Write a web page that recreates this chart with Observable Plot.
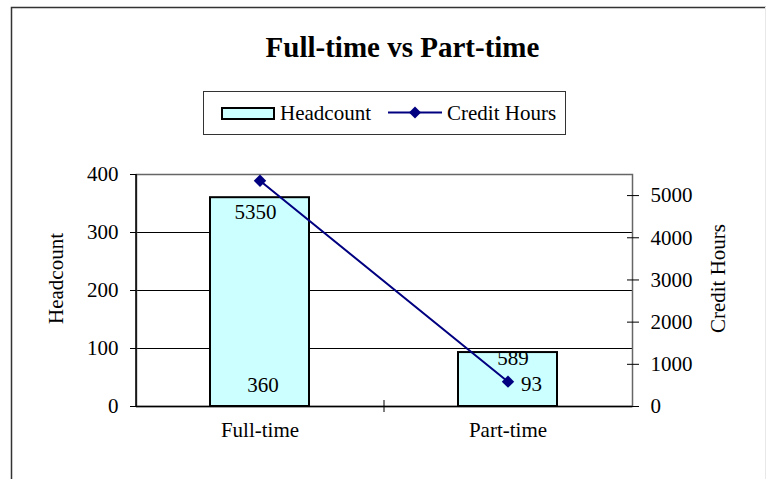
<!DOCTYPE html>
<html>
<head>
<meta charset="utf-8">
<script src="https://cdn.jsdelivr.net/npm/d3@7"></script>
<script src="https://cdn.jsdelivr.net/npm/@observablehq/plot@0.6"></script>
<style>
  body { margin: 0; background: #fff; }
  #wrap { position: relative; width: 766px; height: 479px; overflow: hidden; }
  #wrap > svg { position: absolute; left: 0; }
</style>
</head>
<body>
<div id="wrap"></div>
<script>
// ---- data ----
const title = "Full-time vs Part-time";
const categories = ["Full-time", "Part-time"];
const seriesNames = ["Headcount", "Credit Hours"];
const headcount = [360, 93];
const creditHours = [5350, 589];
const leftTicks = [0, 100, 200, 300, 400];
const rightTicks = [0, 1000, 2000, 3000, 4000, 5000];
const leftMax = 400;
const rightMax = 5500;

// ---- styles ----
const FONT = '"Liberation Serif", "Times New Roman", serif';
const BAR_FILL = "#CCFFFF";
const LINE = "#000080";

const k = leftMax / rightMax;
const rows = categories.map((c, i) => ({
  category: c,
  headcount: headcount[i],
  credit: creditHours[i],
  creditY: creditHours[i] * k
}));

const wrap = document.getElementById("wrap");

// decoration: outer border, title, legend
const deco = d3.create("svg")
  .attr("width", 766).attr("height", 479)
  .style("top", "0px")
  .attr("font-family", FONT);
deco.append("path").attr("d", "M11.5,479V7.5H766")
  .attr("fill", "none").attr("stroke", "#333").attr("stroke-width", 1.5);
deco.append("line").attr("x1", 765.5).attr("x2", 765.5).attr("y1", 7).attr("y2", 479)
  .attr("stroke", "#e8e8e8");
deco.append("text").attr("x", 402.5).attr("y", 57).attr("text-anchor", "middle")
  .attr("font-size", 29).attr("font-weight", "bold").text(title);
const lg = deco.append("g").attr("transform", "translate(203,91)");
lg.append("rect").attr("x", 0.5).attr("y", 0.5).attr("width", 362).attr("height", 43)
  .attr("fill", "#fff").attr("stroke", "#333");
lg.append("rect").attr("x", 19).attr("y", 17).attr("width", 52).attr("height", 11)
  .attr("fill", BAR_FILL).attr("stroke", "#000").attr("stroke-width", 2);
lg.append("text").attr("x", 77).attr("y", 29).attr("font-size", 21).text(seriesNames[0]);
lg.append("line").attr("x1", 185).attr("x2", 239).attr("y1", 21.5).attr("y2", 21.5)
  .attr("stroke", LINE).attr("stroke-width", 2);
lg.append("path").attr("d", "M212,15.5L218,21.5L212,27.5L206,21.5Z").attr("fill", LINE);
lg.append("text").attr("x", 244).attr("y", 29).attr("font-size", 21).text(seriesNames[1]);
wrap.appendChild(deco.node());

// chart
const W = 766, H = 329, mL = 136, mR = 134;
const step = (W - mL - mR) / categories.length;
const chart = Plot.plot({
  width: W,
  height: H,
  marginLeft: mL,
  marginRight: mR,
  marginTop: 24,
  marginBottom: 73,
  style: { fontFamily: FONT, fontSize: "21px", color: "#000", background: "transparent", overflow: "visible" },
  x: { domain: categories, paddingInner: 0.6, paddingOuter: 0.3 },
  y: { domain: [0, leftMax] },
  marks: [
    Plot.ruleY(leftTicks.filter(t => t > 0 && t < leftMax), { stroke: "#000", strokeWidth: 1 }),
    Plot.frame({ stroke: "#666", strokeWidth: 1.5 }),
    Plot.ruleY([0], { stroke: "#000", strokeWidth: 1.5 }),
    Plot.ruleX([categories[0]], { x: d => d, dx: -step / 2, stroke: "#000", strokeWidth: 1.5 }),
    Plot.ruleX([categories[0]], { x: d => d, dx: step / 2, y1: 0, y2: 0, insetTop: 6, insetBottom: 6, stroke: "#000" }),
    Plot.barY(rows, { x: "category", y: "headcount", fill: BAR_FILL }),
    Plot.text(rows.slice(1), { x: "category", y: "creditY", text: d => String(d.credit), dx: 5, dy: -23.6 }),
    Plot.barY(rows, { x: "category", y: "headcount", fill: "none", stroke: "#000", strokeWidth: 2 }),
    Plot.text(rows.slice(0, 1), { x: "category", y: "creditY", text: d => String(d.credit), dx: -4.6, dy: 31.6 }),
    Plot.line(rows, { x: "category", y: "creditY", stroke: LINE, strokeWidth: 2 }),
    Plot.dot(rows, { x: "category", y: "creditY", symbol: "diamond2", r: 5.6, fill: LINE }),
    Plot.text(rows.slice(0, 1), { x: "category", frameAnchor: "bottom", text: d => String(d.headcount), dx: 3, dy: -14.4 }),
    Plot.text(rows.slice(1), { x: "category", frameAnchor: "bottom", text: d => String(d.headcount), dx: 23.5, dy: -15.4 }),
    Plot.axisX({ tickSize: 0, tickPadding: 16, label: null }),
    Plot.axisY(leftTicks, { anchor: "left", tickSize: 6, tickPadding: 12, label: null }),
    Plot.axisY(rightTicks.map(v => v * k), {
      anchor: "right", tickSize: 12, dx: -6, tickPadding: 12, label: null,
      tickFormat: d => String(Math.round(d / k))
    }),
    Plot.text([seriesNames[0]], { text: d => d, frameAnchor: "left", textAnchor: "middle", dx: -80, dy: -12, rotate: -90 }),
    Plot.text([seriesNames[1]], { text: d => d, frameAnchor: "right", textAnchor: "middle", dx: 86, dy: -12, rotate: -90 })
  ]
});
chart.style.position = "absolute";
chart.style.left = "0px";
chart.style.top = "150px";
wrap.appendChild(chart);
</script>
</body>
</html>
